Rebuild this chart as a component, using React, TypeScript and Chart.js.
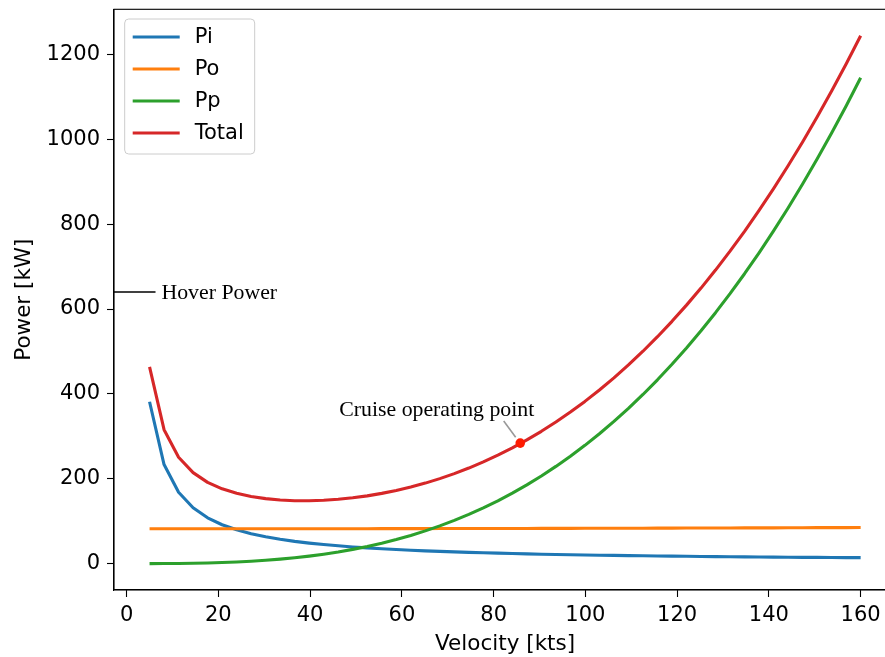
import React, { useEffect, useRef } from "react";
import { Chart, registerables } from "chart.js";

Chart.register(...registerables);

// ---------- data ----------
const velocity = [
  5.0, 8.163, 11.327, 14.49, 17.653, 20.816, 23.98, 27.143, 30.306, 33.469,
  36.633, 39.796, 42.959, 46.122, 49.286, 52.449, 55.612, 58.776, 61.939, 65.102,
  68.265, 71.429, 74.592, 77.755, 80.918, 84.082, 87.245, 90.408, 93.571, 96.735,
  99.898, 103.061, 106.224, 109.388, 112.551, 115.714, 118.878, 122.041, 125.204, 128.367,
  131.531, 134.694, 137.857, 141.02, 144.184, 147.347, 150.51, 153.673, 156.837, 160.0,
];

const piValues = [
  381.5, 233.5, 168.2, 131.5, 108.0, 91.6, 79.6, 70.4, 63.2, 57.3,
  52.4, 48.3, 44.9, 41.9, 39.3, 37.0, 35.0, 33.2, 31.6, 30.1,
  28.8, 27.6, 26.5, 25.5, 24.6, 23.7, 23.0, 22.2, 21.6, 21.0,
  20.4, 19.8, 19.3, 18.8, 18.4, 18.0, 17.6, 17.2, 16.8, 16.5,
  16.2, 15.9, 15.6, 15.3, 15.1, 14.8, 14.6, 14.4, 14.2, 14.0,
];

const poValues = [
  82.0, 82.0, 82.0, 82.0, 82.0, 82.1, 82.1, 82.1, 82.1, 82.1,
  82.2, 82.2, 82.2, 82.3, 82.3, 82.3, 82.4, 82.4, 82.5, 82.5,
  82.6, 82.6, 82.7, 82.7, 82.8, 82.8, 82.9, 83.0, 83.0, 83.1,
  83.2, 83.3, 83.3, 83.4, 83.5, 83.6, 83.7, 83.8, 83.8, 83.9,
  84.0, 84.1, 84.2, 84.3, 84.4, 84.5, 84.7, 84.8, 84.9, 85.0,
];

const ppValues = [
  0.0, 0.2, 0.4, 0.9, 1.5, 2.5, 3.9, 5.6, 7.8, 10.5,
  13.7, 17.6, 22.2, 27.4, 33.5, 40.3, 48.1, 56.8, 66.4, 77.1,
  88.9, 101.9, 116.0, 131.4, 148.1, 166.2, 185.7, 206.6, 229.1, 253.1,
  278.7, 306.0, 335.1, 366.0, 398.6, 433.2, 469.7, 508.2, 548.7, 591.4,
  636.2, 683.2, 732.5, 784.1, 838.1, 894.5, 953.4, 1014.7, 1078.6, 1145.2,
];

const totalValues = [
  463.5, 315.7, 250.6, 214.4, 191.5, 176.2, 165.6, 158.1, 153.1, 149.9,
  148.3, 148.1, 149.3, 151.6, 155.1, 159.6, 165.5, 172.4, 180.5, 189.7,
  200.3, 212.1, 225.2, 239.6, 255.5, 272.7, 291.6, 311.8, 333.7, 357.2,
  382.3, 409.1, 437.7, 468.2, 500.5, 534.8, 571.0, 609.2, 649.3, 691.8,
  736.4, 783.2, 832.3, 883.7, 937.6, 993.8, 1052.7, 1113.9, 1177.7, 1244.2,
];

const seriesLabels = ["Pi", "Po", "Pp", "Total"];
const xTicks = [0, 20, 40, 60, 80, 100, 120, 140, 160];
const yTicks = [0, 200, 400, 600, 800, 1000, 1200];

const hoverPower = 640;
const hoverLineX = [-2.75, 6.3];
const hoverLabel = "Hover Power";
const hoverLabelX = 7.6;

const cruiseX = 85.8;
const cruiseY = 284;
const cruiseLabel = "Cruise operating point";
const cruiseLabelAt = [67.6, 348];
const cruiseArrowFrom = [82.2, 336];
const cruiseArrowTo = [84.8, 298];

const xRange = [-2.75, 167.75];
const yRange = [-62.2, 1306.4];

// ---------- styles ----------
const COLORS = ["#1f77b4", "#ff7f0e", "#2ca02c", "#d62728"];
const SANS = "'DejaVu Sans', sans-serif";
const SERIF = "'Liberation Serif', 'Times New Roman', serif";
const FS = 21;
const FS_TITLE = 21.5;
const FS_NOTE = 21.8;

const toXY = (vals: number[]) => velocity.map((v, i) => ({ x: v, y: vals[i] }));

const framePlugin = {
  id: "frame",
  afterDraw(chart: any) {
    const { ctx, chartArea } = chart;
    ctx.save();
    ctx.strokeStyle = "#000";
    ctx.lineWidth = 1.1;
    ctx.strokeRect(chartArea.left, chartArea.top, chartArea.right - chartArea.left, chartArea.bottom - chartArea.top);
    ctx.restore();
  },
};

const annotationPlugin = {
  id: "annot",
  afterDatasetsDraw(chart: any) {
    const { ctx } = chart;
    const xs = chart.scales.x;
    const ys = chart.scales.y;
    ctx.save();
    ctx.fillStyle = "#000";
    ctx.font = `${FS_NOTE}px ${SERIF}`;
    ctx.textAlign = "left";
    ctx.textBaseline = "middle";
    ctx.fillText(hoverLabel, xs.getPixelForValue(hoverLabelX), ys.getPixelForValue(hoverPower) + 1);

    ctx.textAlign = "center";
    ctx.textBaseline = "alphabetic";
    ctx.fillText(cruiseLabel, xs.getPixelForValue(cruiseLabelAt[0]), ys.getPixelForValue(cruiseLabelAt[1]));

    ctx.strokeStyle = "#999999";
    ctx.lineWidth = 1.6;
    ctx.beginPath();
    ctx.moveTo(xs.getPixelForValue(cruiseArrowFrom[0]), ys.getPixelForValue(cruiseArrowFrom[1]));
    ctx.lineTo(xs.getPixelForValue(cruiseArrowTo[0]), ys.getPixelForValue(cruiseArrowTo[1]));
    ctx.stroke();
    ctx.restore();
  },
};

const legendPlugin = {
  id: "customLegend",
  afterDraw(chart: any) {
    const { ctx, chartArea } = chart;
    const bx = chartArea.left + 10.7;
    const by = chartArea.top + 9.7;
    const bw = 130;
    const bh = 135;
    ctx.save();
    ctx.fillStyle = "rgba(255,255,255,0.8)";
    ctx.strokeStyle = "#cccccc";
    ctx.lineWidth = 1;
    const r = 4;
    ctx.beginPath();
    ctx.moveTo(bx + r, by);
    ctx.lineTo(bx + bw - r, by);
    ctx.quadraticCurveTo(bx + bw, by, bx + bw, by + r);
    ctx.lineTo(bx + bw, by + bh - r);
    ctx.quadraticCurveTo(bx + bw, by + bh, bx + bw - r, by + bh);
    ctx.lineTo(bx + r, by + bh);
    ctx.quadraticCurveTo(bx, by + bh, bx, by + bh - r);
    ctx.lineTo(bx, by + r);
    ctx.quadraticCurveTo(bx, by, bx + r, by);
    ctx.closePath();
    ctx.fill();
    ctx.stroke();
    ctx.font = `${FS}px ${SANS}`;
    ctx.textAlign = "left";
    ctx.textBaseline = "middle";
    seriesLabels.forEach((lab, i) => {
      const y = by + 18 + i * 32;
      ctx.strokeStyle = COLORS[i];
      ctx.lineWidth = 3.1;
      ctx.beginPath();
      ctx.moveTo(bx + 8, y);
      ctx.lineTo(bx + 55, y);
      ctx.stroke();
      ctx.fillStyle = "#000";
      ctx.fillText(lab, bx + 70, y + 1);
    });
    ctx.restore();
  },
};

const noPad = (s: any) => {
  s.paddingTop = 0;
  s.paddingBottom = 0;
  s.paddingLeft = 0;
  s.paddingRight = 0;
};

export default function App() {
  const canvasRef = useRef<HTMLCanvasElement | null>(null);

  useEffect(() => {
    document.body.style.margin = "0";
    const canvas = canvasRef.current;
    if (!canvas) return;
    const seriesData = [piValues, poValues, ppValues, totalValues];
    const lineSets = seriesData.map((vals, i) => ({
      label: seriesLabels[i],
      data: toXY(vals),
      borderColor: COLORS[i],
      backgroundColor: COLORS[i],
      borderWidth: 3.1,
      pointRadius: 0,
      tension: 0,
      order: 4 - i,
    }));
    const chart = new Chart(canvas, {
      type: "line",
      data: {
        datasets: [
          ...lineSets,
          {
            label: "hover",
            data: [
              { x: hoverLineX[0], y: hoverPower },
              { x: hoverLineX[1], y: hoverPower },
            ],
            borderColor: "#000",
            borderWidth: 1.6,
            pointRadius: 0,
            order: 6,
          },
          {
            label: "cruise",
            data: [{ x: cruiseX, y: cruiseY }],
            showLine: false,
            pointRadius: 4.8,
            pointBackgroundColor: "#ff1a00",
            pointBorderColor: "#ff1a00",
            pointBorderWidth: 0,
            order: 0,
          },
        ] as any,
      },
      options: {
        animation: false,
        responsive: false,
        maintainAspectRatio: false,
        layout: { padding: { left: 0, top: 9.3, right: 0, bottom: 0 } },
        plugins: { legend: { display: false }, tooltip: { enabled: false } },
        elements: { line: { borderCapStyle: "butt", borderJoinStyle: "round" } },
        scales: {
          x: {
            type: "linear",
            min: xRange[0],
            max: xRange[1],
            afterBuildTicks: (s: any) => {
              s.ticks = xTicks.map((v) => ({ value: v }));
            },
            afterFit: (s: any) => {
              s.height = 67;
              noPad(s);
            },
            grid: { drawOnChartArea: false, drawTicks: true, tickLength: 7, tickColor: "#000", tickWidth: 1.1 },
            border: { display: true, color: "#000", width: 1.1 },
            ticks: {
              color: "#000",
              font: { family: SANS, size: FS },
              padding: 5.5,
              maxRotation: 0,
              autoSkip: false,
              callback: (v: any) => String(v),
            },
            title: { display: true, text: "Velocity [kts]", color: "#000", font: { family: SANS, size: FS_TITLE }, padding: { top: 0, bottom: 0 } },
          },
          y: {
            type: "linear",
            min: yRange[0],
            max: yRange[1],
            afterBuildTicks: (s: any) => {
              s.ticks = yTicks.map((v) => ({ value: v }));
            },
            afterFit: (s: any) => {
              s.width = 114;
              noPad(s);
            },
            grid: { drawOnChartArea: false, drawTicks: true, tickLength: 7, tickColor: "#000", tickWidth: 1.1 },
            border: { display: true, color: "#000", width: 1.1 },
            ticks: {
              color: "#000",
              font: { family: SANS, size: FS },
              padding: 7,
              autoSkip: false,
              callback: (v: any) => String(v),
            },
            title: { display: true, text: "Power [kW]", color: "#000", font: { family: SANS, size: FS_TITLE }, padding: { top: 12, bottom: 0 } },
          },
        },
      },
      plugins: [framePlugin, annotationPlugin, legendPlugin],
    } as any);
    return () => chart.destroy();
  }, []);

  return (
    <div style={{ position: "fixed", left: 0, top: 0, width: 885, height: 657, overflow: "hidden", background: "#fff" }}>
      <canvas ref={canvasRef} width={901} height={657} style={{ display: "block", width: 901, height: 657 }} />
    </div>
  );
}
